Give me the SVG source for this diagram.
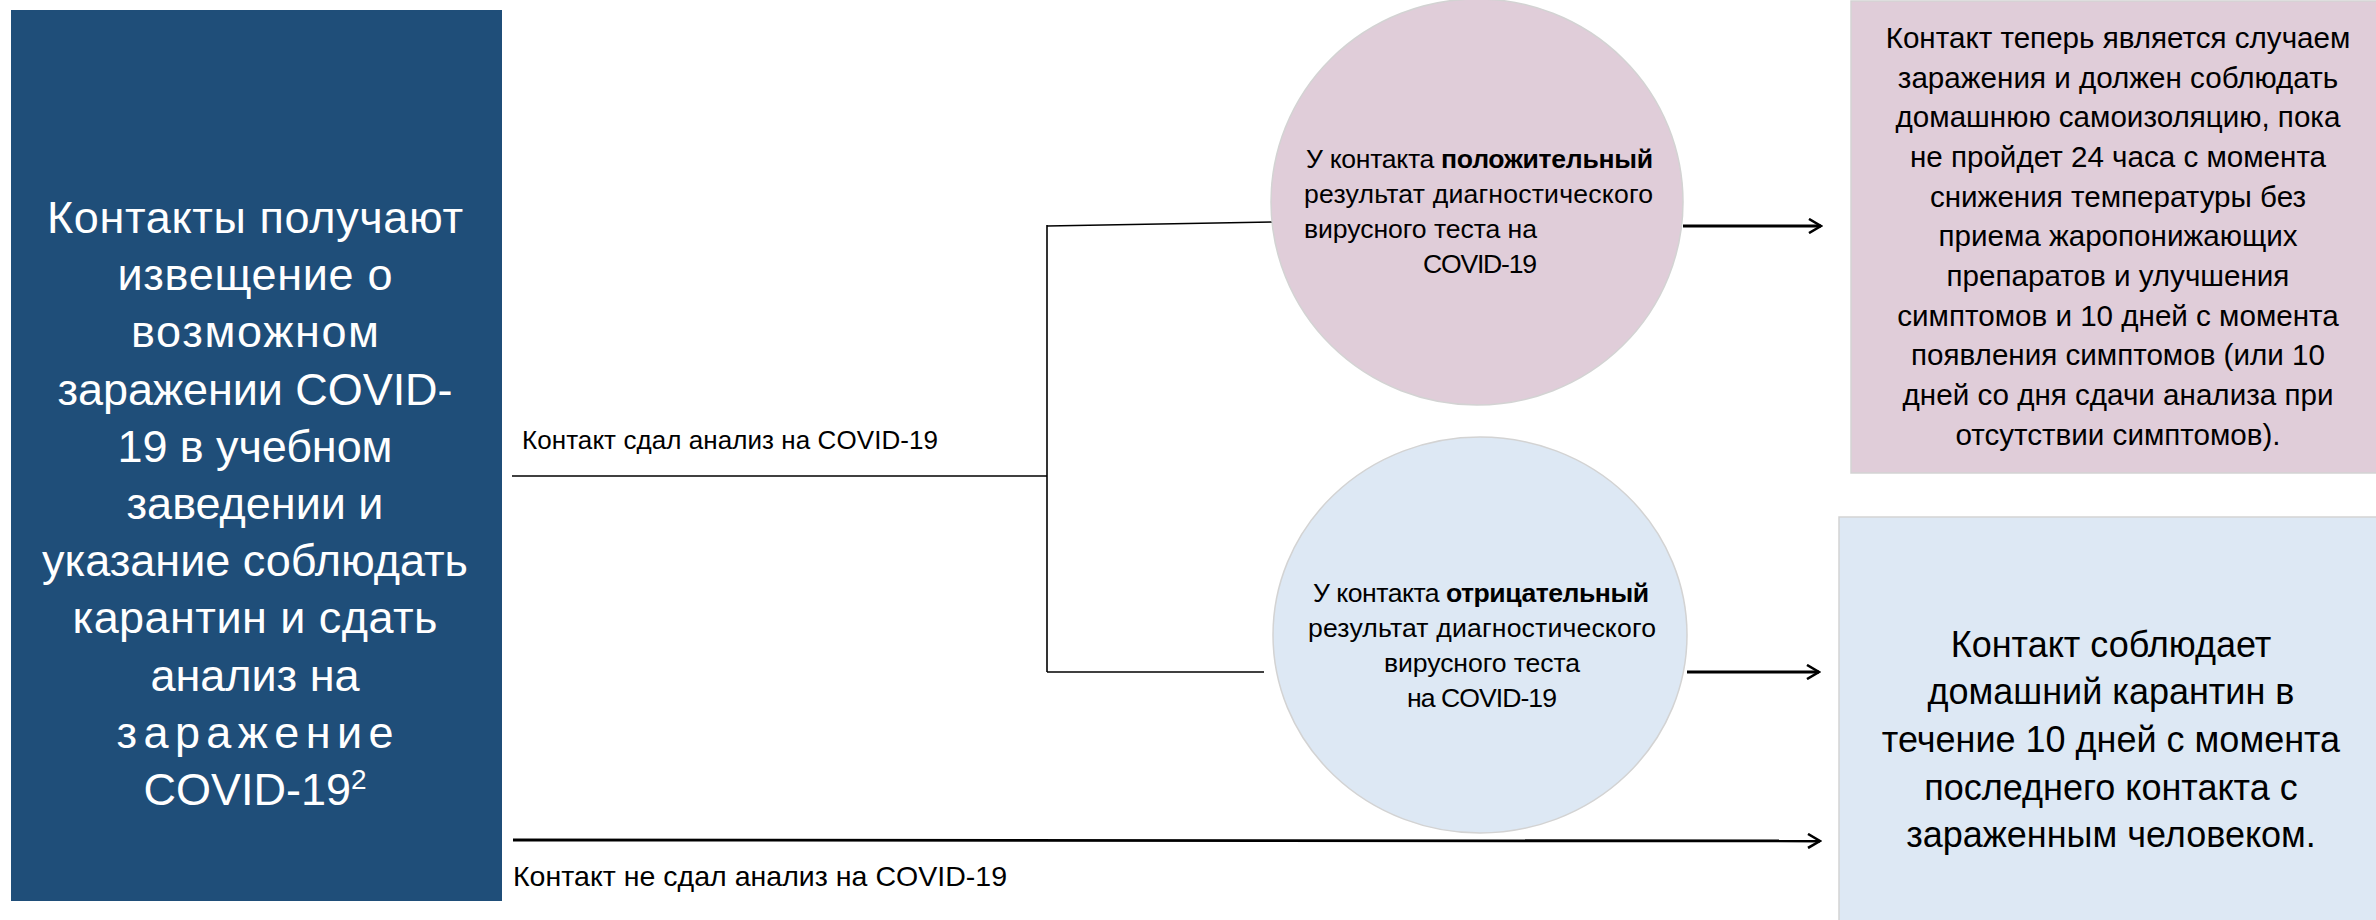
<svg xmlns="http://www.w3.org/2000/svg" width="2376" height="920" viewBox="0 0 2376 920">
<style>
.t{font-family:"Liberation Sans",Arial,sans-serif;fill:#000}
.w{font-family:"Liberation Sans",Arial,sans-serif;fill:#fff;font-size:45px;text-anchor:middle}
.c{font-size:26.6px}
.pb{font-size:29.6px;text-anchor:middle}
.bb{font-size:36px;text-anchor:middle}
.ln{stroke:#000;stroke-width:1.6;fill:none}
.ar{stroke:#000;stroke-width:2.8;fill:none;marker-end:url(#arr)}
.pink{fill:#E0CDD9;stroke:#D3D3D3;stroke-width:1.5}
.blue{fill:#DDE8F4;stroke:#D3D3D3;stroke-width:1.5}
</style>
<defs>
<marker id="arr" viewBox="0 0 16 16" refX="14" refY="8" markerWidth="16" markerHeight="16" markerUnits="userSpaceOnUse" orient="auto">
<path d="M2,1 L14,8 L2,15" fill="none" stroke="#000" stroke-width="2.6"/>
</marker>
</defs>
<rect width="2376" height="920" fill="#fff"/>

<g id="connectors">
<line class="ln" x1="512" y1="476" x2="1047" y2="476" stroke="#333"/>
<line class="ln" x1="1047" y1="225" x2="1047" y2="672"/>
<line class="ln" x1="1047" y1="226" x2="1274" y2="222"/>
<line class="ln" x1="1047" y1="672" x2="1264" y2="672"/>
<line class="ar" x1="1683" y1="226" x2="1821" y2="226"/>
<line class="ar" x1="1687" y1="672" x2="1819" y2="672"/>
<line class="ar" x1="513" y1="840" x2="1820" y2="841"/>
<text class="t" x="522" y="449" font-size="26" textLength="416">Контакт сдал анализ на COVID-19</text>
<text class="t" x="513" y="886" font-size="28.5" textLength="494">Контакт не сдал анализ на COVID-19</text>
</g>

<g id="start">
<rect x="11" y="10" width="491" height="891" fill="#1F4E79"/>
<text class="w" x="255" y="233" textLength="416">Контакты получают</text>
<text class="w" x="255" y="290" textLength="275">извещение о</text>
<text class="w" x="255" y="347" textLength="248">возможном</text>
<text class="w" x="255" y="405" textLength="395">заражении COVID-</text>
<text class="w" x="255" y="462" textLength="275">19 в учебном</text>
<text class="w" x="255" y="519" textLength="257">заведении и</text>
<text class="w" x="255" y="576" textLength="426">указание соблюдать</text>
<text class="w" x="255" y="633" textLength="365">карантин и сдать</text>
<text class="w" x="255" y="691" textLength="209">анализ на</text>
<text class="w" x="255" y="748" textLength="277">заражение</text>
<text class="w" x="255" y="805" font-size="44">COVID-19<tspan font-size="28" dy="-16">2</tspan></text>
</g>

<g id="positive">
<ellipse class="pink" cx="1477" cy="202" rx="206" ry="203"/>
<text class="t c" x="1306" y="168" textLength="347">У контакта <tspan font-weight="bold">положительный</tspan></text>
<text class="t c" x="1304" y="203" textLength="349">результат диагностического</text>
<text class="t c" x="1304" y="238" textLength="233">вирусного теста на</text>
<text class="t c" x="1423" y="273" textLength="114">COVID-19</text>
</g>

<g id="negative">
<ellipse class="blue" cx="1480" cy="635" rx="207" ry="198"/>
<text class="t c" x="1481" y="602" text-anchor="middle" textLength="336">У контакта <tspan font-weight="bold">отрицательный</tspan></text>
<text class="t c" x="1482" y="637" text-anchor="middle" textLength="348">результат диагностического</text>
<text class="t c" x="1482" y="672" text-anchor="middle" textLength="196">вирусного теста</text>
<text class="t c" x="1482" y="707" text-anchor="middle" textLength="150">на COVID-19</text>
</g>

<g id="isolation">
<rect class="pink" x="1851" y="1" width="540" height="472"/>
<text class="t pb" x="2118" y="48">Контакт теперь является случаем</text>
<text class="t pb" x="2118" y="88">заражения и должен соблюдать</text>
<text class="t pb" x="2118" y="127">домашнюю самоизоляцию, пока</text>
<text class="t pb" x="2118" y="167">не пройдет 24 часа с момента</text>
<text class="t pb" x="2118" y="207">снижения температуры без</text>
<text class="t pb" x="2118" y="246">приема жаропонижающих</text>
<text class="t pb" x="2118" y="286">препаратов и улучшения</text>
<text class="t pb" x="2118" y="326">симптомов и 10 дней с момента</text>
<text class="t pb" x="2118" y="365">появления симптомов (или 10</text>
<text class="t pb" x="2118" y="405">дней со дня сдачи анализа при</text>
<text class="t pb" x="2118" y="445">отсутствии симптомов).</text>
</g>

<g id="quarantine">
<rect class="blue" x="1839" y="517" width="560" height="420"/>
<text class="t bb" x="2111" y="657">Контакт соблюдает</text>
<text class="t bb" x="2111" y="704">домашний карантин в</text>
<text class="t bb" x="2111" y="752">течение 10 дней с момента</text>
<text class="t bb" x="2111" y="800">последнего контакта с</text>
<text class="t bb" x="2111" y="847">зараженным человеком.</text>
</g>
</svg>
